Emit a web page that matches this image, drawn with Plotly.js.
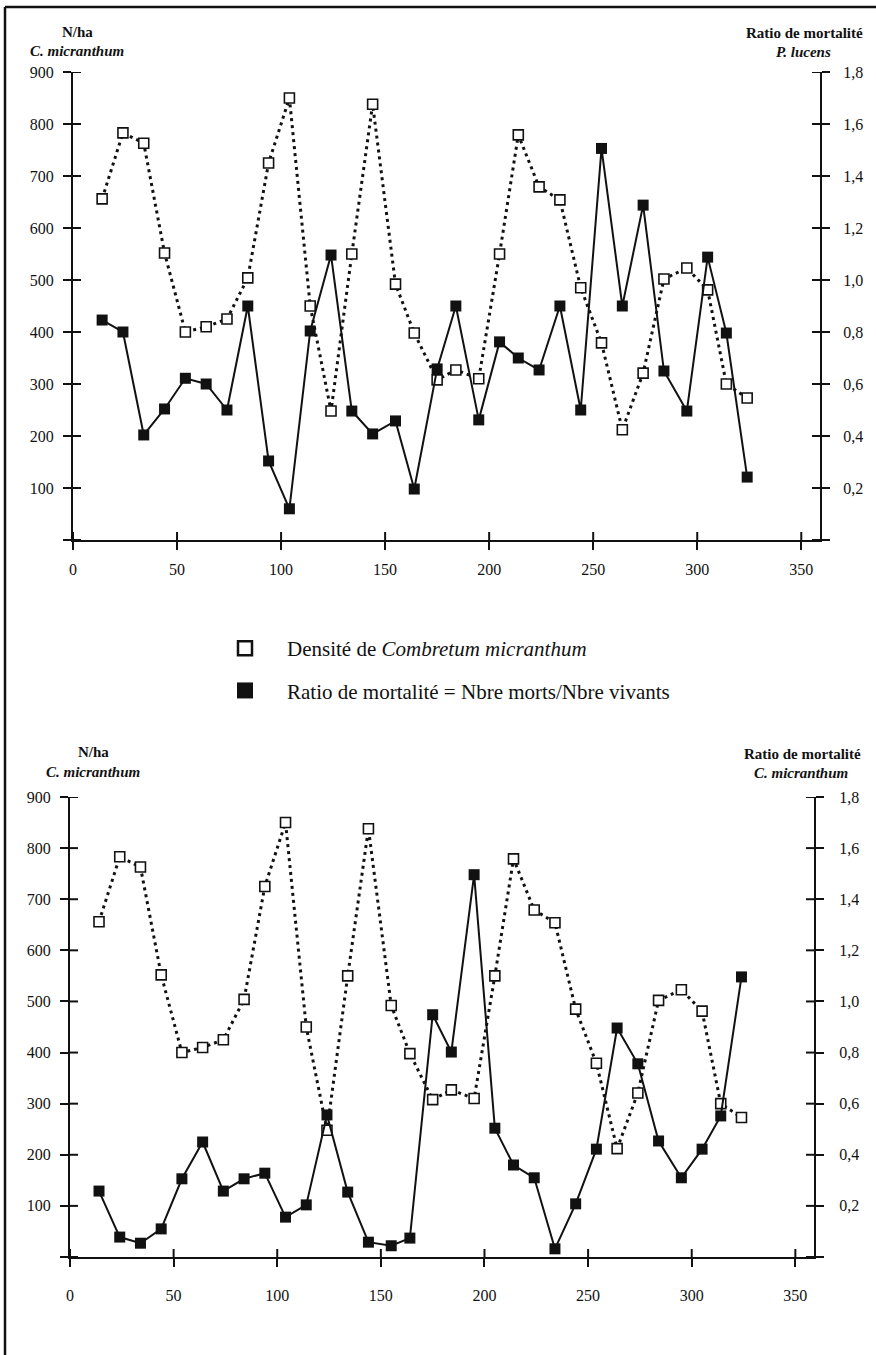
<!DOCTYPE html>
<html><head><meta charset="utf-8">
<script src="https://cdn.plot.ly/plotly-3.0.1.min.js"></script>
<style>html,body{margin:0;padding:0;background:#fff;}#chart{width:876px;height:1355px;}</style>
</head><body><div id="chart"></div><script>
// ---- data ----
const distance = [14,24,34,44,54,64,74,84,94,104,114,124,134,144,155,164,175,184,195,205,214,224,234,244,254,264,274,284,295,305,314,324];
const densityCmicranthum = [656,783,763,552,400,410,425,504,725,850,450,248,550,838,492,398,308,327,310,550,779,679,654,485,379,212,321,502,523,481,300,273];
const ratioPlucens = [0.846,0.80,0.404,0.504,0.622,0.60,0.50,0.90,0.304,0.12,0.804,1.096,0.496,0.408,0.458,0.196,0.658,0.90,0.462,0.762,0.70,0.654,0.90,0.50,1.506,0.90,1.288,0.65,0.496,1.088,0.796,0.242];
const ratioCmicranthum = [0.258,0.078,0.054,0.11,0.306,0.45,0.258,0.306,0.328,0.156,0.204,0.556,0.254,0.058,0.044,0.074,0.948,0.802,1.496,0.504,0.36,0.31,0.032,0.208,0.422,0.896,0.756,0.454,0.31,0.422,0.552,1.096];
const xTicks = [0,50,100,150,200,250,300,350];
const densityTicks = [0,100,200,300,400,500,600,700,800,900];
const ratioTicks = [0,0.2,0.4,0.6,0.8,1.0,1.2,1.4,1.6,1.8];
const legendLabels = ['Densité de <i>Combretum micranthum</i>', 'Ratio de mortalité = Nbre morts/Nbre vivants'];

// ---- page geometry ----
const W = 876, H = 1355, ML = 70, MR = 56;
const PW = W - ML - MR;
const FONT = 'Liberation Serif';
const INK = '#111';
const px2x = p => (p - ML) / PW;
const px2y = p => 1 - p / H;
const TICK = 8;

const densityText = densityTicks.map(v => v === 0 ? '' : String(v));
const ratioText = ratioTicks.map(v => v === 0 ? '' : v.toFixed(1).replace('.', ','));

function baseAxis(extra) {
  return Object.assign({
    showline: true, linecolor: INK, linewidth: 2,
    ticks: 'outside', ticklen: TICK, tickwidth: 2, tickcolor: INK,
    showgrid: false, zeroline: false, fixedrange: true, automargin: false,
    tickfont: {family: FONT, size: 16, color: INK}
  }, extra);
}

const dotLine = {color: INK, width: 3, dash: '3px,4px'};
const solidLine = {color: INK, width: 2};
const openMarker = {symbol: 'square', size: 10, color: '#fff', line: {color: INK, width: 1.6}};
const filledMarker = {symbol: 'square', size: 11, color: INK, line: {color: INK, width: 0}};
const none = [null];

const traces = [
  // top panel
  {x: distance, y: ratioPlucens, xaxis: 'x', yaxis: 'y2', mode: 'lines+markers', line: solidLine, marker: filledMarker, showlegend: false, hoverinfo: 'skip'},
  {x: distance, y: densityCmicranthum, xaxis: 'x', yaxis: 'y', mode: 'lines+markers', line: dotLine, marker: openMarker, showlegend: false, hoverinfo: 'skip'},
  // bottom panel
  {x: distance, y: ratioCmicranthum, xaxis: 'x2', yaxis: 'y4', mode: 'lines+markers', line: solidLine, marker: filledMarker, showlegend: false, hoverinfo: 'skip'},
  {x: distance, y: densityCmicranthum, xaxis: 'x2', yaxis: 'y3', mode: 'lines+markers', line: dotLine, marker: openMarker, showlegend: false, hoverinfo: 'skip'},
  // legend entries
  {x: none, y: none, xaxis: 'x', yaxis: 'y', mode: 'markers', name: legendLabels[0], legendgroup: 'a',
   marker: {symbol: 'square', size: 14, color: '#fff', line: {color: INK, width: 2.5}}},
  {x: none, y: none, xaxis: 'x', yaxis: 'y', mode: 'markers', name: legendLabels[1], legendgroup: 'b',
   marker: {symbol: 'square', size: 16, color: INK}}
];

// panel geometry in pixels
const P1 = {left: 73, right: 820, top: 72, bottom: 540};
const P2 = {left: 70, right: 814, top: 797, bottom: 1257};
const xr = [0, 359];

function ann(text, px, py) {
  return {text: text, xref: 'paper', yref: 'paper', x: px2x(px), y: px2y(py),
    xanchor: 'center', yanchor: 'middle', showarrow: false,
    font: {family: FONT, size: 15, color: INK}};
}

// inward half of the crossing ticks, placed at the tick values through the axes
function innerTicks(xa, ya, yaR, P) {
  const w = P.right - P.left, h = P.bottom - P.top;
  const ln = {color: INK, width: 2};
  const out = [];
  densityTicks.forEach(v => out.push({type: 'line', xref: xa + ' domain', yref: ya, x0: 0, x1: TICK / w, y0: v, y1: v, line: ln}));
  ratioTicks.forEach(v => out.push({type: 'line', xref: xa + ' domain', yref: yaR, x0: 1 - TICK / w, x1: 1, y0: v, y1: v, line: ln}));
  xTicks.forEach(v => out.push({type: 'line', xref: xa, yref: ya + ' domain', x0: v, x1: v, y0: 0, y1: TICK / h, line: ln}));
  return out;
}

const layout = {
  width: W, height: H,
  margin: {l: ML, r: MR, t: 0, b: 0, pad: 0, autoexpand: false},
  paper_bgcolor: '#fff', plot_bgcolor: 'rgba(0,0,0,0)',
  font: {family: FONT, color: INK},
  showlegend: true,
  legend: {xref: 'paper', yref: 'paper', x: px2x(203), y: px2y(628),
    xanchor: 'left', yanchor: 'top', font: {family: FONT, size: 21, color: INK},
    bgcolor: 'rgba(0,0,0,0)', borderwidth: 0, traceorder: 'grouped', tracegroupgap: 12,
    itemwidth: 74, itemclick: false, itemdoubleclick: false},
  // top panel
  xaxis: baseAxis({domain: [px2x(P1.left), px2x(P1.right)], anchor: 'y', range: xr, tickvals: xTicks, ticklabelstandoff: 6, tickangle: 0}),
  yaxis: baseAxis({domain: [px2y(P1.bottom), px2y(P1.top)], anchor: 'x', range: [0, 900], tickvals: densityTicks, ticktext: densityText, ticklabelstandoff: 6}),
  yaxis2: baseAxis({overlaying: 'y', side: 'right', anchor: 'x', range: [0, 1.8], tickvals: ratioTicks, ticktext: ratioText, ticklabelstandoff: 10}),
  // bottom panel
  xaxis2: baseAxis({domain: [px2x(P2.left), px2x(P2.right)], anchor: 'y3', range: xr, tickvals: xTicks, ticklabelstandoff: 15, tickangle: 0}),
  yaxis3: baseAxis({domain: [px2y(P2.bottom), px2y(P2.top)], anchor: 'x2', range: [0, 900], tickvals: densityTicks, ticktext: densityText, ticklabelstandoff: 6}),
  yaxis4: baseAxis({overlaying: 'y3', side: 'right', anchor: 'x2', range: [0, 1.8], tickvals: ratioTicks, ticktext: ratioText, ticklabelstandoff: 12}),
  annotations: [
    ann('<b>N/ha</b>', 77, 32),
    ann('<b><i>C. micranthum</i></b>', 77, 51),
    ann('<b>Ratio de mortalité</b>', 804, 33),
    ann('<b><i>P. lucens</i></b>', 803, 52),
    ann('<b>N/ha</b>', 93, 752),
    ann('<b><i>C. micranthum</i></b>', 93, 772),
    ann('<b>Ratio de mortalité</b>', 802, 754),
    ann('<b><i>C. micranthum</i></b>', 801, 773)
  ],
  shapes: [
    {type: 'line', xref: 'paper', yref: 'paper', x0: px2x(5), x1: px2x(876), y0: px2y(7), y1: px2y(7), line: {color: INK, width: 2.5}},
    {type: 'line', xref: 'paper', yref: 'paper', x0: px2x(5), x1: px2x(5), y0: px2y(7), y1: px2y(1355), line: {color: INK, width: 2.5}}
  ].concat(innerTicks('x', 'y', 'y2', P1), innerTicks('x2', 'y3', 'y4', P2))
};

Plotly.newPlot('chart', traces, layout, {displayModeBar: false, staticPlot: true});
</script></body></html>
